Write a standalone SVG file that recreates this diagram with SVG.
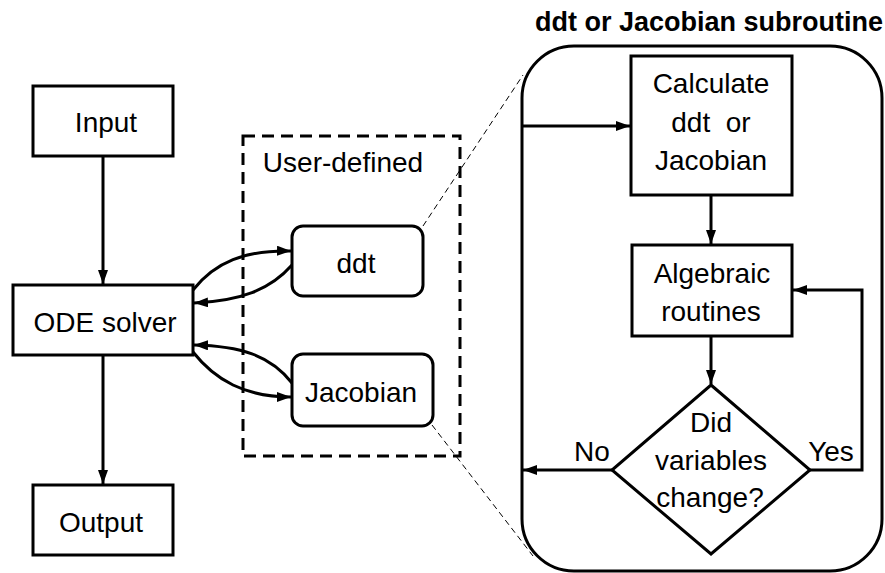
<svg xmlns="http://www.w3.org/2000/svg" width="885" height="573" viewBox="0 0 885 573">
  <style>
    .box { fill: #fff; stroke: #000; stroke-width: 3; }
    .edge { fill: none; stroke: #000; stroke-width: 3; }
    .lbl { font-family: "Liberation Sans", Arial, sans-serif; font-size: 28px; fill: #000; text-anchor: middle; }
    .title { font-family: "Liberation Sans", Arial, sans-serif; font-size: 27px; font-weight: bold; fill: #000; text-anchor: middle; }
    .group { fill: none; stroke: #000; stroke-width: 3; stroke-dasharray: 12 7; }
    .zoomline { fill: none; stroke: #000; stroke-width: 1; stroke-dasharray: 6 4; }
  </style>
  <defs>
    <marker id="arrow" markerUnits="userSpaceOnUse" markerWidth="15" markerHeight="11" refX="14" refY="5" orient="auto">
      <path d="M0,0 L14,5 L0,10 z" fill="#000"/>
    </marker>
  </defs>

  <rect width="885" height="573" fill="#fff"/>

  <!-- user-defined group and subroutine frame -->
  <g id="user-defined">
    <rect class="group" x="243" y="136" width="217" height="320"/>
    <text class="lbl" x="343" y="172">User-defined</text>
  </g>
  <g id="subroutine">
    <text class="title" x="709" y="31">ddt or Jacobian subroutine</text>
    <rect class="box" x="522" y="46" width="360" height="525" rx="52" ry="52" fill="none"/>
  </g>

  <!-- zoom guide lines -->
  <g id="guides">
    <line class="zoomline" x1="423" y1="226" x2="523" y2="75"/>
    <line class="zoomline" x1="432" y1="425" x2="533" y2="556"/>
  </g>

  <!-- nodes -->
  <g id="input">
    <rect class="box" x="33" y="86" width="140" height="70"/>
    <text class="lbl" x="106" y="132">Input</text>
  </g>
  <g id="ode-solver">
    <rect class="box" x="13" y="285" width="180" height="70"/>
    <text class="lbl" x="105" y="332">ODE solver</text>
  </g>
  <g id="output">
    <rect class="box" x="33" y="485" width="140" height="70"/>
    <text class="lbl" x="101" y="532">Output</text>
  </g>
  <g id="ddt">
    <rect class="box" x="292" y="226" width="131" height="70" rx="11"/>
    <text class="lbl" x="356" y="273">ddt</text>
  </g>
  <g id="jacobian">
    <rect class="box" x="292" y="354" width="141" height="72" rx="11"/>
    <text class="lbl" x="361" y="402">Jacobian</text>
  </g>
  <g id="calculate">
    <rect class="box" x="631" y="56" width="161" height="139"/>
    <text class="lbl" x="711" y="93">Calculate</text>
    <text class="lbl" x="711" y="132" xml:space="preserve">ddt  or</text>
    <text class="lbl" x="711" y="170">Jacobian</text>
  </g>
  <g id="algebraic">
    <rect class="box" x="632" y="245" width="160" height="91"/>
    <text class="lbl" x="712" y="283">Algebraic</text>
    <text class="lbl" x="711" y="321">routines</text>
  </g>
  <g id="decision">
    <polygon class="box" points="711,385 810,470 711,554 612,470"/>
    <text class="lbl" x="711" y="432">Did</text>
    <text class="lbl" x="711" y="470">variables</text>
    <text class="lbl" x="710" y="507">change?</text>
  </g>

  <!-- connectors -->
  <g id="connectors">
    <line class="edge" x1="103" y1="156" x2="103" y2="284" marker-end="url(#arrow)"/>
    <line class="edge" x1="103" y1="355" x2="103" y2="484" marker-end="url(#arrow)"/>
    <path class="edge" d="M193,290 C215,262 245,250 291,251" marker-end="url(#arrow)"/>
    <path class="edge" d="M292,265 C270,290 240,301 194,303" marker-end="url(#arrow)"/>
    <path class="edge" d="M292,383 C270,355 240,346 194,345" marker-end="url(#arrow)"/>
    <path class="edge" d="M193,352 C215,380 245,397 291,397" marker-end="url(#arrow)"/>
    <line class="edge" x1="522" y1="126" x2="630" y2="126" marker-end="url(#arrow)"/>
    <line class="edge" x1="711" y1="195" x2="711" y2="244" marker-end="url(#arrow)"/>
    <line class="edge" x1="711" y1="336" x2="711" y2="384" marker-end="url(#arrow)"/>
    <polyline class="edge" points="810,470 862,470 862,290 793,290" marker-end="url(#arrow)"/>
    <line class="edge" x1="612" y1="470" x2="523" y2="470" marker-end="url(#arrow)"/>
    <text class="lbl" x="592" y="461">No</text>
    <text class="lbl" x="831" y="461">Yes</text>
  </g>
</svg>
